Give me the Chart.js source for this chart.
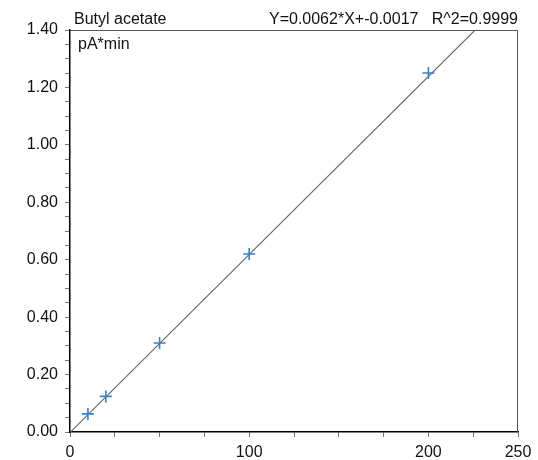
<!DOCTYPE html>
<html>
<head>
<meta charset="utf-8">
<script src="https://cdn.jsdelivr.net/npm/chart.js@4"></script>
<style>
  html, body { margin: 0; padding: 0; background: #fff; }
  #wrap { width: 538px; height: 460px; }
</style>
</head>
<body>
<div id="wrap"><canvas id="c" width="538" height="460"></canvas></div>
<script>
// Calibration standards: amount vs. peak area
const amounts = [10, 20, 50, 100, 200];
const areas = [0.063, 0.124, 0.310, 0.620, 1.250];

// Fitted calibration line
const slope = 0.0062;
const intercept = -0.0017;
const r2 = 0.9999;

const compoundName = 'Butyl acetate';
const yUnit = 'pA*min';
const xLabelValues = [0, 100, 200, 250];
const xMax = 250;
const yMax = 1.40;

const FONT = '"Liberation Sans", Arial, sans-serif';

const fitLine = [
  { x: 0, y: intercept },
  { x: (yMax - intercept) / slope, y: yMax }
];

const annotations = {
  id: 'annotations',
  afterDraw(chart) {
    const { ctx, chartArea: a } = chart;
    ctx.save();
    // frame
    ctx.strokeStyle = '#555';
    ctx.lineWidth = 1;
    ctx.beginPath();
    ctx.moveTo(a.left, a.top + 0.5);
    ctx.lineTo(a.right - 0.5, a.top + 0.5);
    ctx.lineTo(a.right - 0.5, a.bottom);
    ctx.stroke();
    ctx.fillStyle = '#111';
    ctx.font = '16px ' + FONT;
    ctx.textBaseline = 'alphabetic';
    ctx.textAlign = 'left';
    ctx.fillText(compoundName, a.left + 4, 24);
    ctx.fillText(yUnit, a.left + 8, 49);
    ctx.textAlign = 'right';
    const eq = 'Y=' + slope.toFixed(4) + '*X+' + intercept.toFixed(4) + '   R^2=' + r2.toFixed(4);
    ctx.fillText(eq, a.right, 24);
    ctx.restore();
  }
};

new Chart(document.getElementById('c'), {
  type: 'scatter',
  data: {
    datasets: [
      {
        label: 'Standards',
        data: amounts.map((x, i) => ({ x, y: areas[i] })),
        pointStyle: 'cross',
        pointRadius: 6,
        pointHoverRadius: 6,
        borderColor: '#3a7fc4',
        backgroundColor: '#3a7fc4',
        pointBorderWidth: 1.6,
        order: 0
      },
      {
        label: 'Fit',
        type: 'line',
        data: fitLine,
        borderColor: '#666',
        borderWidth: 1.1,
        pointRadius: 0,
        fill: false,
        order: 1
      }
    ]
  },
  options: {
    responsive: false,
    animation: false,
    layout: { padding: { top: 30, right: 20, left: 0, bottom: 0 } },
    plugins: { legend: { display: false }, tooltip: { enabled: false } },
    scales: {
      x: {
        type: 'linear',
        min: 0,
        max: xMax,
        afterFit(s) { s.height = 28; },
        border: { color: '#000', width: 1.5 },
        grid: { drawOnChartArea: false, drawTicks: true, tickLength: 5, color: '#777' },
        ticks: {
          stepSize: 25,
          autoSkip: false,
          maxRotation: 0,
          padding: 6,
          color: '#111',
          font: { family: FONT, size: 16 },
          callback: v => xLabelValues.includes(v) ? String(v) : ''
        }
      },
      y: {
        min: 0,
        max: yMax,
        afterFit(s) { s.width = 70; },
        border: { color: '#000', width: 1.5 },
        grid: { drawOnChartArea: false, drawTicks: true, tickLength: 5, color: '#777' },
        ticks: {
          stepSize: 0.05,
          autoSkip: false,
          padding: 7,
          color: '#111',
          font: { family: FONT, size: 16 },
          callback: v => {
            const k = Math.round(v * 100);
            return k % 20 === 0 ? (k / 100).toFixed(2) : '';
          }
        }
      }
    }
  },
  plugins: [annotations]
});
</script>
</body>
</html>
